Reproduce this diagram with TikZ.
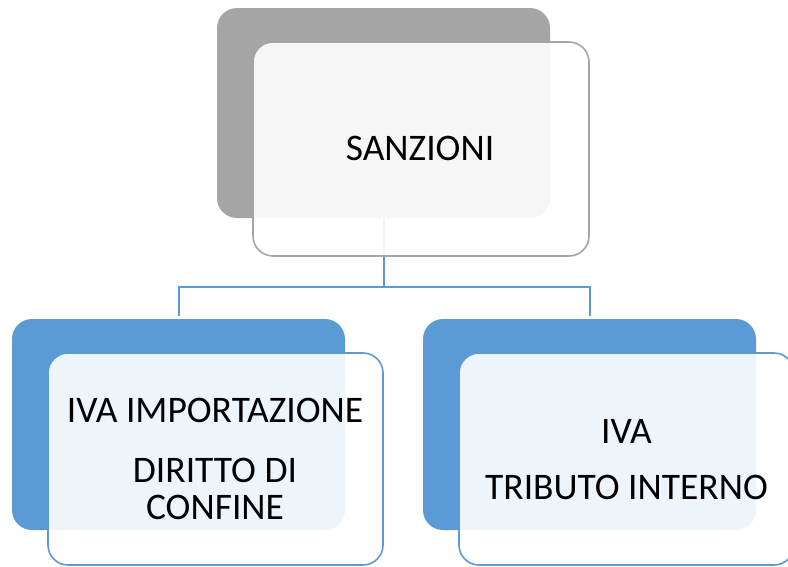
\documentclass[tikz,border=0pt]{standalone}
\usepackage{fontspec}
\setmainfont{Carlito}
\definecolor{accblue}{HTML}{5B9BD5}
\definecolor{accgray}{HTML}{A5A5A5}
\tikzset{
  backbox/.style={rectangle, rounded corners=20pt, draw=none, inner sep=0pt},
  frontbox/.style={rectangle, rounded corners=20pt, fill=white, fill opacity=0.9, draw opacity=1, line width=1.6pt, inner sep=0pt},
  conn/.style={draw=accblue, line width=2pt},
  txt/.style={font=\fontsize{37.5}{37}\selectfont, text=black, inner sep=0pt, align=center}
}
\begin{document}
\begin{tikzpicture}[x=1pt,y=-1pt]
\clip (0,0) rectangle (788,566);
\fill[white] (0,0) rectangle (788,566);
% back boxes
\node[backbox, fill=accgray, minimum width=333pt, minimum height=210pt] (topback) at (383.5,113) {};
\node[backbox, fill=accblue, minimum width=333pt, minimum height=211pt] (leftback) at (178.5,424.5) {};
\node[backbox, fill=accblue, minimum width=333pt, minimum height=211pt] (rightback) at (589.5,424.5) {};
% connectors
\coordinate (j) at (383.5,287);
\draw[conn] (topback.south) -- (topback.south |- j);
\draw[conn, shorten <=3pt, shorten >=3pt] (leftback.north) -- (leftback.north |- j) -- (rightback.north |- j) -- (rightback.north);
% front boxes
\node[frontbox, draw=accgray, minimum width=336pt, minimum height=214pt] (topfront) at (421,149) {};
\node[frontbox, draw=accblue, minimum width=335pt, minimum height=212pt] (leftfront) at (215.5,459) {};
\node[frontbox, draw=accblue, minimum width=335pt, minimum height=212pt] (rightfront) at (626.5,459) {};
% texts
\node[txt] (t1) at (420,148) {SANZIONI};
\node[txt] (t2) at (215,458.5) {IVA IMPORTAZIONE\\[23pt]DIRITTO DI\\CONFINE};
\node[txt] (t3) at (626.5,460) {IVA\\[19pt]TRIBUTO INTERNO};
\end{tikzpicture}
\end{document}
